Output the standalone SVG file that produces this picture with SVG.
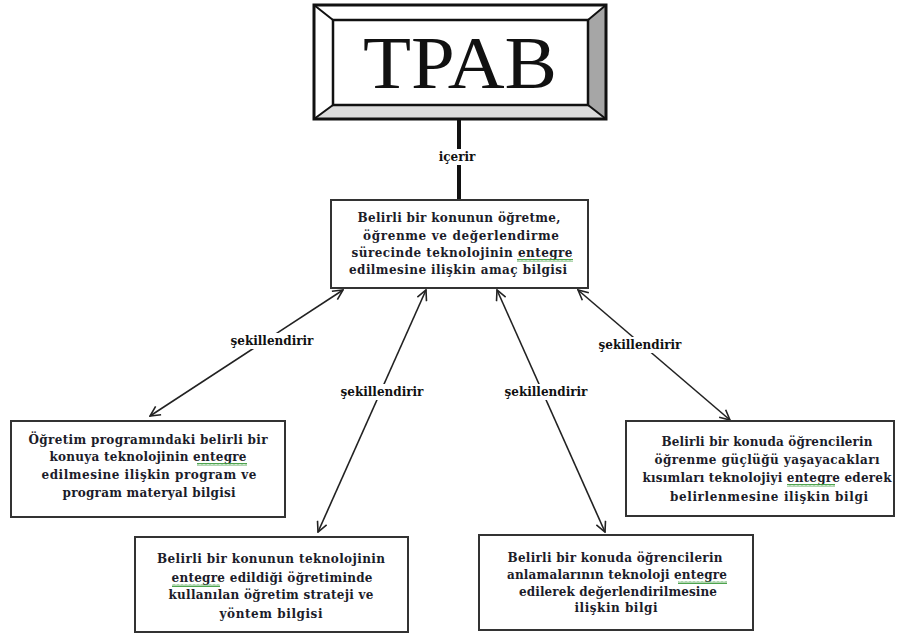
<svg xmlns="http://www.w3.org/2000/svg" width="899" height="634" viewBox="0 0 899 634">
<defs>
<marker id="ah" viewBox="0 0 12 12" refX="11" refY="6" markerWidth="12" markerHeight="12" markerUnits="userSpaceOnUse" orient="auto-start-reverse">
<path d="M1,1 L11,6 L1,11" fill="none" stroke="#222" stroke-width="1.6"/>
</marker>
<pattern id="wave" width="4" height="3" patternUnits="userSpaceOnUse">
<path d="M0,2.5 L1,0.5 L2,2.5 L3,0.5 L4,2.5" fill="none" stroke="#3a9a3a" stroke-width="0.9"/>
</pattern>
</defs>
<style>
.box{fill:#fff;stroke:#333;stroke-width:2}
.t{font-family:"DejaVu Serif","Liberation Serif",serif;font-weight:bold;font-size:12px;fill:#1c1c2a;text-anchor:middle}
.lbl{font-family:"DejaVu Serif","Liberation Serif",serif;font-weight:bold;font-size:12px;fill:#111;text-anchor:middle}
.ln{stroke:#222;stroke-width:1.6;fill:none}
.bg{fill:#fff}
.sq{fill:url(#wave)}
</style>
<rect width="899" height="634" fill="#fff"/>

<g id="tpab">
<polygon points="314,5 606,5 588,20 333,20" fill="#fff"/>
<polygon points="314,5 333,20 333,105 314,119" fill="#fff"/>
<polygon points="606,5 606,119 588,105 588,20" fill="#a6a6a6"/>
<polygon points="314,119 606,119 588,105 333,105" fill="#dcdcdc"/>
<rect x="314" y="5" width="292" height="114" fill="none" stroke="#111" stroke-width="3"/>
<rect x="333" y="20" width="255" height="85" fill="#fff" stroke="#111" stroke-width="2.5"/>
<path d="M314,5 L333,20 M606,5 L588,20 M314,119 L333,105 M606,119 L588,105" stroke="#111" stroke-width="2"/>
<text x="460" y="88" font-family="Liberation Serif, serif" font-size="74" text-anchor="middle" fill="#111" textLength="194" lengthAdjust="spacingAndGlyphs">TPAB</text>
</g>

<g id="connectors">
<line x1="459" y1="120" x2="459" y2="200" stroke="#111" stroke-width="4"/>
<rect class="bg" x="436" y="149" width="46" height="16"/>
<text class="lbl" x="457" y="161">içerir</text>

<line class="ln" x1="343" y1="290" x2="150" y2="416" marker-start="url(#ah)" marker-end="url(#ah)"/>
<line class="ln" x1="426" y1="290" x2="318" y2="532" marker-start="url(#ah)" marker-end="url(#ah)"/>
<line class="ln" x1="497" y1="290" x2="605" y2="532" marker-start="url(#ah)" marker-end="url(#ah)"/>
<line class="ln" x1="578" y1="290" x2="730" y2="420" marker-start="url(#ah)" marker-end="url(#ah)"/>

<rect class="bg" x="226" y="333" width="93" height="16"/>
<text class="lbl" x="272" y="345">şekillendirir</text>
<rect class="bg" x="336" y="384" width="93" height="16"/>
<text class="lbl" x="382" y="396">şekillendirir</text>
<rect class="bg" x="500" y="384" width="93" height="16"/>
<text class="lbl" x="546" y="396">şekillendirir</text>
<rect class="bg" x="594" y="337" width="93" height="16"/>
<text class="lbl" x="640" y="349">şekillendirir</text>
</g>

<g id="amac">
<rect class="box" x="331" y="200" width="257" height="88"/>
<text class="t" x="459" y="222" textLength="203">Belirli bir konunun öğretme,</text>
<text class="t" x="461" y="240" textLength="196">öğrenme ve değerlendirme</text>
<text class="t" x="462" y="257" textLength="221">sürecinde teknolojinin entegre</text>
<text class="t" x="458" y="274" textLength="218">edilmesine ilişkin amaç bilgisi</text>
<rect class="sq" x="517" y="259" width="56" height="3"/>
</g>

<g id="program">
<rect class="box" x="11" y="421" width="274" height="96"/>
<text class="t" x="148" y="444" textLength="239">Öğretim programındaki belirli bir</text>
<text class="t" x="148" y="461" textLength="197">konuya teknolojinin entegre</text>
<text class="t" x="149" y="479" textLength="215">edilmesine ilişkin program ve</text>
<text class="t" x="149" y="497" textLength="173">program materyal bilgisi</text>
<rect class="sq" x="197" y="463" width="50" height="3"/>
</g>

<g id="strateji">
<rect class="box" x="135" y="537" width="273" height="95"/>
<text class="t" x="271" y="563" textLength="228">Belirli bir konunun teknolojinin</text>
<text class="t" x="272" y="582" textLength="201">entegre edildiği öğretiminde</text>
<text class="t" x="271" y="599" textLength="205">kullanılan öğretim strateji ve</text>
<text class="t" x="271" y="618" textLength="103">yöntem bilgisi</text>
<rect class="sq" x="172" y="584" width="48" height="3"/>
</g>

<g id="degerlendirme">
<rect class="box" x="479" y="535" width="274" height="95"/>
<text class="t" x="615" y="562" textLength="215">Belirli bir konuda öğrencilerin</text>
<text class="t" x="617" y="579" textLength="220">anlamalarının teknoloji entegre</text>
<text class="t" x="618" y="596" textLength="198">edilerek değerlendirilmesine</text>
<text class="t" x="616" y="612" textLength="83">ilişkin bilgi</text>
<rect class="sq" x="678" y="581" width="49" height="3"/>
</g>

<g id="guclukler">
<rect class="box" x="626" y="421" width="268" height="95"/>
<text class="t" x="767" y="446" textLength="211">Belirli bir konuda öğrencilerin</text>
<text class="t" x="767" y="464" textLength="225">öğrenme güçlüğü yaşayacakları</text>
<text class="t" x="767" y="482" textLength="249">kısımları teknolojiyi entegre ederek</text>
<text class="t" x="769" y="501" textLength="198">belirlenmesine ilişkin bilgi</text>
<rect class="sq" x="787" y="484" width="48" height="3"/>
</g>
</svg>
